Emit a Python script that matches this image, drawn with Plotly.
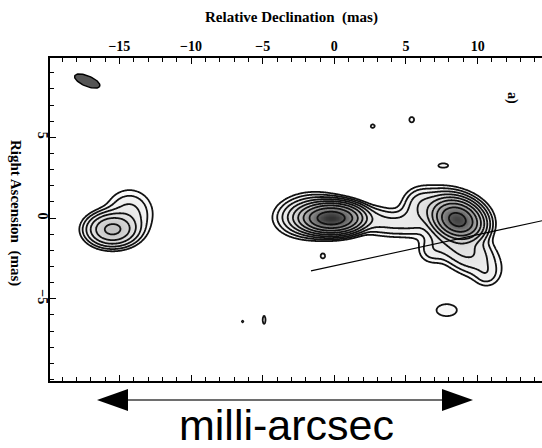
import numpy as np
import plotly.graph_objects as go

x_ticks = [-15, -10, -5, 0, 5, 10]
y_ticks = [-5, 0, 5]

# Gaussian brightness components (x, y in mas; peak in units of the lowest contour)
comp_x    = [-0.2, -1.6,  2.9,  4.3,  5.5,  8.6,  8.0,  6.0,  8.9, 10.6,  6.8,
             -15.5, -14.3,  2.68, 5.4, 7.6, -0.8, -6.4, -4.9, 7.84]
comp_y    = [0.0,  0.15, -0.15, -0.35, -0.1, -0.1,  0.3,  1.0, -1.8, -3.5, -2.0,
             -0.7,  0.3,   5.7, 6.1, 3.26, -2.34, -6.4, -6.3, -5.7]
comp_peak = [410, 16,  3.5,  4.0,  3.0,  330,  20,  3.0, 10,   2.0,  2.5,
             38,   5,    1.5, 1.4, 1.6, 1.5, 1.1, 1.4, 1.8]
comp_sx   = [0.95, 1.15, 0.7,  0.8,  0.6, 0.75, 1.25, 0.6,  1.4,  0.5,  0.6,
             0.85, 0.9,  0.15, 0.2, 0.35, 0.17, 0.12, 0.12, 0.65]
comp_sy   = [0.4, 0.62, 0.5,  0.47, 0.6, 0.5,  0.68, 0.5,  0.7,  0.45, 0.5,
             0.5, 0.8,  0.12, 0.2, 0.14, 0.17, 0.12, 0.3, 0.34]
comp_pa   = [0,   3,    0,    0,    0,   -15,  -10,  0,   -30,   0,    0,
             0,    0,    0,   0,   0,   0,   0,   0,   0]

# restoring beam
beam_x, beam_y, beam_a, beam_b, beam_pa = -17.24, 8.49, 0.93, 0.33, -19.7

# reference line
line_x = [-1.63, 14.6]
line_y = [-3.27, -0.14]

# ---------------- build the field ----------------
xs = np.arange(-20.0, 15.0001, 0.05)
ys = np.arange(-10.2, 10.2001, 0.05)
X, Y = np.meshgrid(xs, ys)
field = np.zeros_like(X)
for cx, cy, pk, sx, sy, pa in zip(comp_x, comp_y, comp_peak, comp_sx, comp_sy, comp_pa):
    th = np.deg2rad(pa)
    dx, dy = X - cx, Y - cy
    u = dx * np.cos(th) + dy * np.sin(th)
    v = -dx * np.sin(th) + dy * np.cos(th)
    field += pk * np.exp(-0.5 * ((u / sx) ** 2 + (v / sy) ** 2))
zlog = np.round(np.log2(np.maximum(field, 1e-3)), 3)

zmax = float(np.log2(field.max()))
stops = []
for u in np.linspace(0, 1, 25):
    f = (2 ** (u * zmax) - 1) / (2 ** zmax - 1)
    g = int(round(255 * (1 - 0.8 * f ** 0.5)))
    stops.append([float(u), f"rgb({g},{g},{g})"])

fig = go.Figure()
fig.add_trace(go.Contour(
    x=np.round(xs, 3), y=np.round(ys, 3), z=zlog,
    colorscale=stops, zmin=0, zmax=zmax,
    contours=dict(coloring="heatmap", start=0, end=12, size=1),
    line=dict(color="#111111", width=1.8, smoothing=1),
    showscale=False, hoverinfo="skip"))

# beam ellipse
t = np.linspace(0, 2 * np.pi, 80)
th = np.deg2rad(beam_pa)
bx = beam_x + beam_a * np.cos(t) * np.cos(th) - beam_b * np.sin(t) * np.sin(th)
by = beam_y + beam_a * np.cos(t) * np.sin(th) + beam_b * np.sin(t) * np.cos(th)
fig.add_trace(go.Scatter(x=bx, y=by, mode="lines", fill="toself",
                         fillcolor="#555555", line=dict(color="black", width=1.5),
                         hoverinfo="skip", showlegend=False))

fig.add_trace(go.Scatter(x=line_x, y=line_y, mode="lines",
                         line=dict(color="black", width=1.1),
                         hoverinfo="skip", showlegend=False))

# ---------------- layout ----------------
W, H = 542, 448
ML, MR, MT, MB = 50, 0, 58, 67
PW, PH = W - ML - MR, H - MT - MB

def px(xp):
    return (xp - ML) / PW

def py(yp):
    return (H - MB - yp) / PH

serif = dict(family="Liberation Serif", size=14, color="black", weight="bold")

axis_common = dict(ticks="inside", ticklen=6.5, tickwidth=1.2, tickcolor="black",
                   showline=True, linecolor="black", linewidth=1.5,
                   showgrid=False, zeroline=False, tickfont=serif,
                   minor=dict(tick0=0, dtick=1, ticks="inside", ticklen=4,
                              tickwidth=1, tickcolor="black", showgrid=False))

fig.update_layout(
    width=W, height=H, margin=dict(l=ML, r=MR, t=MT, b=MB, pad=0),
    paper_bgcolor="white", plot_bgcolor="white", showlegend=False,
    xaxis=dict(range=[-19.84, 14.49], side="top", tickvals=x_ticks,
               mirror="ticks", **axis_common),
    yaxis=dict(range=[-10.09, 9.92], tickvals=y_ticks, tickangle=90,
               ticklabelstandoff=-7, mirror=False, **axis_common),
)

def note(text, xp, yp, size, family="Liberation Serif", weight="bold", angle=0):
    return dict(text=text, x=px(xp), y=py(yp), xref="paper", yref="paper",
                xanchor="center", yanchor="middle", showarrow=False, textangle=angle,
                font=dict(family=family, size=size, color="black", weight=weight))

ann = [
    note("Relative Declination\u00a0\u00a0(mas)", 291, 18, 15),
    note("Right Ascension\u00a0\u00a0(mas)", 16, 213, 15, angle=90),
    note("a)", 512, 98, 14, angle=90),
    note("milli-arcsec", 286, 425, 43, family="Liberation Sans", weight="normal"),
]
fig.update_layout(annotations=ann)

# double-headed arrow under the axis
ay = 400
left_tip, left_base, right_base, right_tip, half_h = 97, 128, 442, 473, 11
shapes = [
    dict(type="line", xref="paper", yref="paper", x0=px(left_base), x1=px(right_base),
         y0=py(ay), y1=py(ay), line=dict(color="#6e6e6e", width=2.2)),
    dict(type="path", xref="paper", yref="paper", fillcolor="black", line=dict(width=0),
         path=f"M {px(left_tip)},{py(ay)} L {px(left_base)},{py(ay - half_h)} L {px(left_base)},{py(ay + half_h)} Z"),
    dict(type="path", xref="paper", yref="paper", fillcolor="black", line=dict(width=0),
         path=f"M {px(right_tip)},{py(ay)} L {px(right_base)},{py(ay - half_h)} L {px(right_base)},{py(ay + half_h)} Z"),
]
fig.update_layout(shapes=shapes)

fig.write_html("out.html")
